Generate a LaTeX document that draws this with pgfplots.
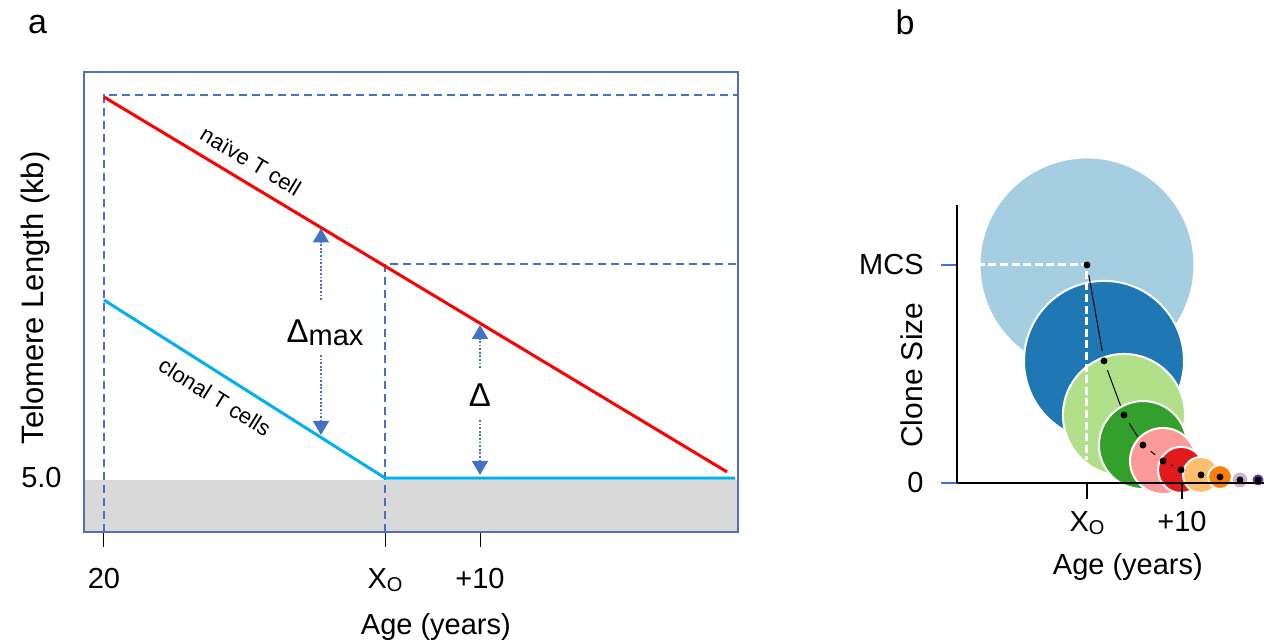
\documentclass[border=0pt]{standalone}
\usepackage{pgfplots}
\pgfplotsset{compat=1.18}
\usepackage{fontspec}
\setmainfont{Liberation Sans}
\usetikzlibrary{arrows.meta}
\definecolor{dblue}{HTML}{4472C4}
\definecolor{framec}{HTML}{4F71B3}
\definecolor{cyanl}{HTML}{00B0F0}
\definecolor{gfill}{HTML}{D9D9D9}
\definecolor{c1}{HTML}{A6CEE3}
\definecolor{c2}{HTML}{1F78B4}
\definecolor{c3}{HTML}{B2DF8A}
\definecolor{c4}{HTML}{33A02C}
\definecolor{c5}{HTML}{FB9A99}
\definecolor{c6}{HTML}{E31A1C}
\definecolor{c7}{HTML}{FDBF6F}
\definecolor{c8}{HTML}{FF7F00}
\definecolor{c9}{HTML}{CAB2D6}
\definecolor{c10}{HTML}{6A3D9A}
\newcommand{\sub}[1]{\raisebox{-1.5pt}{\fontsize{10}{10}\selectfont #1}}
\begin{document}
\begin{tikzpicture}[font=\fontsize{14.5}{17}\selectfont]
\useasboundingbox (0,0) rectangle (632pt,-320pt);
\node at (18.75pt,-12.5pt) {\fontsize{17}{20}\selectfont a};
\node at (452.5pt,-11pt) {\fontsize{17}{20}\selectfont b};
% ---------- panel a ----------
\begin{axis}[
 at={(42pt,-266pt)}, anchor=south west, scale only axis,
 width=327pt, height=230pt,
 xmin=17.895, xmax=86.737, ymin=3.583, ymax=15.656,
 axis on top, axis line style={draw=framec, line width=0.8pt},
 xtick={20,49.58,59.58}, xticklabels={20, X\sub{O}, +10},
 xtick pos=bottom, tick align=outside, major tick length=7.5pt,
 xtick style={black, line width=0.5pt},
 xticklabel style={anchor=north, inner sep=0pt, yshift=-10.5pt},
 ytick={5}, yticklabels={5.0}, ytick pos=left, ytick style={draw=none},
 yticklabel style={anchor=east, inner sep=0pt, xshift=-3.5pt},
 xlabel={Age (years)}, ylabel={\fontsize{15.5}{18}\selectfont Telomere Length (kb)},
 every axis x label/.style={at={(axis description cs:0.538,-0.2065)}, anchor=center},
 every axis y label/.style={at={(axis description cs:-0.074,0.509)}, rotate=90, anchor=center},
]
\addplot[fill=gfill, draw=none] coordinates {(17.895,3.583) (86.737,3.583) (86.737,4.95) (17.895,4.95)} -- cycle;
\addplot[dblue, line width=1pt, dash pattern=on 4pt off 2.5pt] coordinates {(20,3.583) (20,15.05) (86.737,15.05)};
\addplot[dblue, line width=1pt, dash pattern=on 4pt off 2.5pt] coordinates {(49.58,3.583) (49.58,10.62) (86.737,10.62)};
\addplot[red, line width=1.5pt] coordinates {(20,15.0) (85.58,5.16)};
\addplot[cyanl, line width=1.5pt] coordinates {(20,9.67) (49.58,5.0) (86.4,5.0)};
\addplot[dblue, line width=0.9pt, dash pattern=on 0.9pt off 0.9pt, -{Triangle[width=8pt,length=7pt]}] coordinates {(42.84,9.67) (42.84,11.55)};
\addplot[dblue, line width=0.9pt, dash pattern=on 0.9pt off 0.9pt, -{Triangle[width=8pt,length=7pt]}] coordinates {(42.84,8.23) (42.84,6.13)};
\addplot[dblue, line width=0.9pt, dash pattern=on 0.9pt off 0.9pt, -{Triangle[width=8pt,length=7pt]}] coordinates {(59.58,7.887) (59.58,9.016)};
\addplot[dblue, line width=0.9pt, dash pattern=on 0.9pt off 0.9pt, -{Triangle[width=8pt,length=7pt]}] coordinates {(59.58,6.52) (59.58,5.08)};
\node[rotate=-31] at (axis cs:35.47,13.32) {\fontsize{11}{13}\selectfont naïve T cell};
\node[rotate=-32] at (axis cs:31.68,7.126) {\fontsize{11}{13}\selectfont clonal T cells};
\node at (axis cs:43.26,8.806) {{\fontsize{16.5}{18}\selectfont Δ}\raisebox{-1.5pt}{max}};
\node at (axis cs:59.58,7.18) {\fontsize{16.5}{18}\selectfont Δ};
\node[anchor=base west, inner sep=0pt] at (axis description cs:1.0153,0.937) {TL\sub{20}};
\node[anchor=base west, inner sep=0pt] at (axis description cs:1.0153,0.578) {TL\sub{O}};
\node[anchor=base west, inner sep=0pt] at (axis description cs:1.0153,0.111) {TL\sub{B}};
\end{axis}
% ---------- panel b ----------
\begin{axis}[
 at={(478.5pt,-241.5pt)}, anchor=south west, scale only axis,
 width=156.5pt, height=139pt,
 xmin=-13.68, xmax=19.26, ymin=0, ymax=127.5,
 clip=false, clip mode=individual, axis on top, axis lines=left,
 axis line style={-, black, line width=0.6pt},
 xtick={0,10}, xticklabels={X\sub{O}, +10},
 tick align=outside, major tick length=8pt,
 xtick style={black, line width=0.6pt},
 ytick={0,100}, yticklabels={0, MCS},
 ytick style={dblue, line width=0.6pt},
 xticklabel style={anchor=north, inner sep=0pt, yshift=-6pt},
 yticklabel style={anchor=east, inner sep=0pt, xshift=-8.5pt},
 xlabel={Age (years)}, ylabel={\fontsize{15}{18}\selectfont Clone Size},
 every axis x label/.style={at={(axis description cs:0.546,-0.302)}, anchor=center},
 every axis y label/.style={at={(axis description cs:-0.144,0.388)}, rotate=90, anchor=center},
]
\addplot[only marks, mark=*, mark size=53.75pt, mark options={fill=c1, draw=white, line width=1pt}] coordinates {(0,100)};
\addplot[only marks, mark=*, mark size=40pt, mark options={fill=c2, draw=white, line width=1pt}] coordinates {(1.79,56.0)};
\addplot[only marks, mark=*, mark size=30.5pt, mark options={fill=c3, draw=white, line width=1pt}] coordinates {(3.89,31.2)};
\addplot[only marks, mark=*, mark size=22pt, mark options={fill=c4, draw=white, line width=1pt}] coordinates {(5.89,17.4)};
\addplot[only marks, mark=*, mark size=16.5pt, mark options={fill=c5, draw=white, line width=1pt}] coordinates {(8.0,10.1)};
\addplot[only marks, mark=*, mark size=11.5pt, mark options={fill=c6, draw=white, line width=1pt}] coordinates {(9.9,6.0)};
\addplot[only marks, mark=*, mark size=9pt, mark options={fill=c7, draw=white, line width=1pt}] coordinates {(12.0,3.7)};
\addplot[only marks, mark=*, mark size=6pt, mark options={fill=c8, draw=white, line width=1pt}] coordinates {(14.0,2.75)};
\addplot[only marks, mark=*, mark size=4.25pt, mark options={fill=c9, draw=white, line width=1pt}] coordinates {(16.1,1.4)};
\addplot[only marks, mark=*, mark size=3.25pt, mark options={fill=c10, draw=white, line width=1pt}] coordinates {(18.0,1.4)};
\addplot[white, line width=1.5pt, dash pattern=on 4pt off 1.8pt] coordinates {(-11.6,100) (0,100) (0,10.5)};
\addplot[black, line width=0.5pt, shorten <=5pt, shorten >=5pt] coordinates {(0,100) (1.79,56.0)};
\addplot[black, line width=0.5pt, shorten <=5pt, shorten >=5pt] coordinates {(1.79,56.0) (3.89,31.2)};
\addplot[black, line width=0.5pt, shorten <=5pt, shorten >=5pt] coordinates {(3.89,31.2) (5.89,17.4)};
\addplot[black, line width=0.5pt, shorten <=5pt, shorten >=5pt] coordinates {(5.89,17.4) (8.0,10.1)};
\addplot[black, line width=0.5pt, shorten <=4.5pt, shorten >=4.5pt] coordinates {(8.0,10.1) (9.9,6.0)};
\addplot[only marks, mark=*, mark size=1.5pt, black] coordinates {(0,100) (1.79,56.0) (3.89,31.2) (5.89,17.4) (8.0,10.1) (9.9,6.0) (12.0,3.7) (14.0,2.75) (16.1,1.4) (18.0,1.4)};
\end{axis}
\end{tikzpicture}
\end{document}
